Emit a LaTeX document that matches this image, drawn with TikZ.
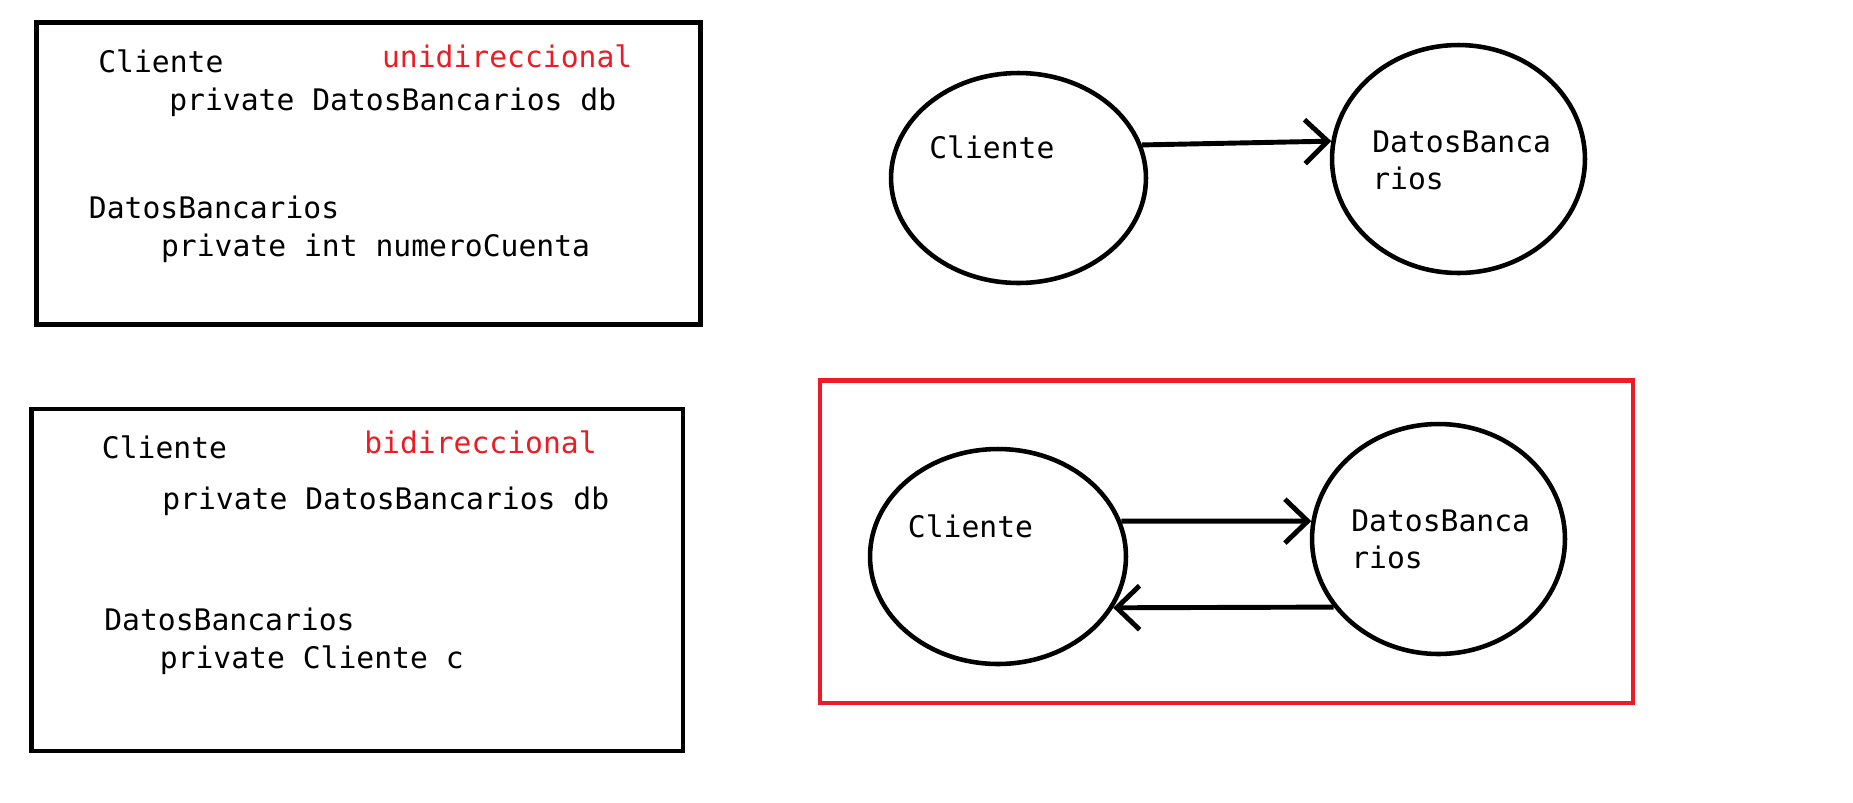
\documentclass[tikz,border=0pt]{standalone}
\usepackage{fontspec}
\setmonofont{DejaVu Sans Mono}
\usetikzlibrary{arrows.meta,calc,positioning,shapes.geometric}
\definecolor{paintred}{RGB}{237,28,36}
\newcommand{\codefont}{\ttfamily\fontsize{16.9pt}{21pt}\selectfont}

\begin{document}
\begin{tikzpicture}[x=0.02cm, y=-0.02cm,
                        frame/.style ={draw=black, line width=2.8pt},
                        redframe/.style={draw=paintred, line width=2.7pt},
                        clase/.style ={ellipse, draw=black, line width=2.6pt, inner sep=0},
                        txt/.style   ={anchor=base west, inner sep=0, font=\codefont, align=left},
                        nota/.style  ={txt, text=paintred},
                        assoc/.style ={-{Straight Barb[length=13pt,width=25pt]}, draw, line width=2.8pt}]

      \useasboundingbox (0,0) rectangle (1853,802);

      % code boxes
      \draw[frame] (36.4,22.3) rectangle (700.8,324.7);
      \node[txt]  at(98,72.7)   (c1)    {Cliente};
      \node[nota] at(381.7,67.7) (uni)  {unidireccional};
      \node[txt]  at(169,110)   (c1db)  {private DatosBancarios db};
      \node[txt]  at(88.6,218)  (d1)    {DatosBancarios};
      \node[txt]  at(160.7,256) (d1num) {private int numeroCuenta};

      \draw[frame] (31.9,409) rectangle (683,751);
      \node[txt]  at(101.6,458) (c2)    {Cliente};
      \node[nota] at(364,453)   (bi)    {bidireccional};
      \node[txt]  at(162,509)   (c2db)  {private DatosBancarios db};
      \node[txt]  at(104,630)   (d2)    {DatosBancarios};
      \node[txt]  at(159.5,668) (d2c)   {private Cliente c};

      % unidireccional
      \node[clase, minimum width=5.1cm,  minimum height=4.2cm]  at(1018.5,178)   (cli1) {};
      \node[clase, minimum width=5.06cm, minimum height=4.56cm] at(1458.5,159)   (db1)  {};
      \node[txt] at($(cli1)+(-89.5,-20)$) (cli1txt) {Cliente};
      \node[txt] at($(db1) +(-86.5,30)$)  (db1txt)  {DatosBanca\\rios};
      \path[assoc] (cli1.15) -- (db1.172);

      % bidireccional
      \draw[redframe] (820,380.7) rectangle (1633,703);
      \node[clase, minimum width=5.12cm, minimum height=4.3cm]  at(998,556.5)    (cli2) {};
      \node[clase, minimum width=5.06cm, minimum height=4.6cm]  at(1438.5,539)   (db2)  {};
      \node[txt] at($(cli2)+(-90.4,-19.5)$) (cli2txt) {Cliente};
      \node[txt] at($(db2) +(-87.5,29)$)    (db2txt)  {DatosBanca\\rios};
      \path[assoc] (cli2.16)  -- (db2.172);
      \path[assoc] (db2.213)  -- (cli2.336);
    \end{tikzpicture}
\end{document}
